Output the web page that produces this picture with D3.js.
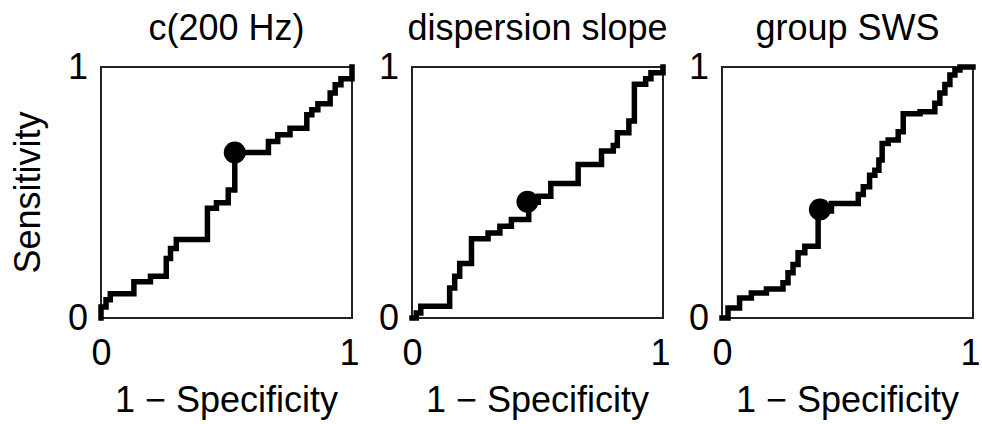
<!DOCTYPE html>
<html>
<head>
<meta charset="utf-8">
<script src="https://cdn.jsdelivr.net/npm/d3@7"></script>
<style>
  body{margin:0;background:#fff}
  svg text{font-family:"Liberation Sans",Arial,sans-serif;fill:#000}
</style>
</head>
<body>
<div id="chart"></div>
<script>
// panel titles
const titles=["c(200 Hz)","dispersion slope","group SWS"]
const xLabel="1 \u2212 Specificity"
const yLabel="Sensitivity"

// ROC vertices (1 - specificity, sensitivity)
const c200Fpr=[0,0,0.02,0.037,0.131,0.197,0.26,0.277,0.30,0.424,0.46,0.507,0.533,0.667,0.704,0.753,0.82,0.84,0.864,0.913,0.933,0.956,1]
const c200Tpr=[0,0.044,0.073,0.097,0.144,0.166,0.237,0.277,0.313,0.437,0.459,0.51,0.659,0.703,0.73,0.756,0.81,0.83,0.854,0.896,0.929,0.953,1]

const slopeFpr=[0,0.017,0.035,0.15,0.17,0.19,0.237,0.303,0.35,0.396,0.465,0.503,0.553,0.662,0.755,0.802,0.818,0.864,0.886,0.931,0.952,1]
const slopeTpr=[0,0.02,0.047,0.12,0.166,0.217,0.316,0.339,0.366,0.392,0.461,0.485,0.536,0.612,0.665,0.687,0.738,0.785,0.931,0.953,0.977,1]

const swsFpr=[0,0.024,0.07,0.117,0.177,0.243,0.263,0.283,0.303,0.33,0.383,0.436,0.543,0.563,0.588,0.609,0.625,0.638,0.662,0.702,0.722,0.789,0.848,0.868,0.888,0.908,0.928,0.948,1]
const swsTpr=[0,0.04,0.08,0.1,0.116,0.14,0.18,0.213,0.26,0.286,0.426,0.456,0.492,0.523,0.569,0.589,0.629,0.695,0.709,0.742,0.814,0.822,0.856,0.896,0.93,0.968,0.988,1,1]

// operating points (big dots)
const dotFpr=[0.533,0.46,0.39]
const dotTpr=[0.659,0.463,0.432]

const tickVals=[0,1]

const curves=[[c200Fpr,c200Tpr],[slopeFpr,slopeTpr],[swsFpr,swsTpr]]

let width=982, height=424
let panelLeft=[101,412,722], panelTop=67, size=251
let fontSize=36

let svg=d3.select("#chart").append("svg").attr("width",width).attr("height",height)

// y label
svg.append("text").attr("transform","translate(40,"+(panelTop+size/2)+") rotate(-90)")
  .attr("text-anchor","middle").style("font-size",fontSize+"px").text(yLabel)

curves.forEach((c,i)=>{
  let x=d3.scaleLinear().domain([0,1]).range([panelLeft[i],panelLeft[i]+size])
  let y=d3.scaleLinear().domain([0,1]).range([panelTop+size,panelTop])
  let pts=c[0].map((v,j)=>[v,c[1][j]])

  // box
  svg.append("rect").attr("x",x(0)).attr("y",y(1)).attr("width",x(1)-x(0)).attr("height",y(0)-y(1))
    .attr("fill","none").attr("stroke","#222").attr("stroke-width",2)

  // title + x label
  svg.append("text").attr("x",x(0.5)).attr("y",40).attr("text-anchor","middle")
    .style("font-size",fontSize+"px").text(titles[i])
  svg.append("text").attr("x",x(0.5)).attr("y",412).attr("text-anchor","middle")
    .style("font-size",fontSize+"px").text(xLabel)

  // axes (no tick marks, no domain line)
  let ax=svg.append("g").attr("transform","translate(0,"+y(0)+")")
    .call(d3.axisBottom(x).tickValues(tickVals).tickFormat(d3.format("d")).tickSize(0).tickPadding(21))
  let ay=svg.append("g").attr("transform","translate("+x(0)+",0)")
    .call(d3.axisLeft(y).tickValues(tickVals).tickFormat(d3.format("d")).tickSize(0).tickPadding(13))
  ;[ax,ay].forEach(g=>{
    g.select(".domain").remove()
    g.selectAll("text").style("font-size",fontSize+"px").style("font-family","Liberation Sans, Arial, sans-serif").attr("fill","#000")
  })
  // keep the right-most "1" inside the picture
  ax.selectAll("text").filter(d=>d==1).attr("dx","-3")

  // ROC curve
  let line=d3.line().x(d=>x(d[0])).y(d=>y(d[1])).curve(d3.curveStepAfter)
  svg.append("path").attr("d",line(pts)).attr("fill","none").attr("stroke","#000")
    .attr("stroke-width",5.5).attr("stroke-linejoin","miter").attr("stroke-linecap","square")

  svg.append("circle").attr("cx",x(dotFpr[i])).attr("cy",y(dotTpr[i])).attr("r",11).attr("fill","#000")
})
</script>
</body>
</html>
